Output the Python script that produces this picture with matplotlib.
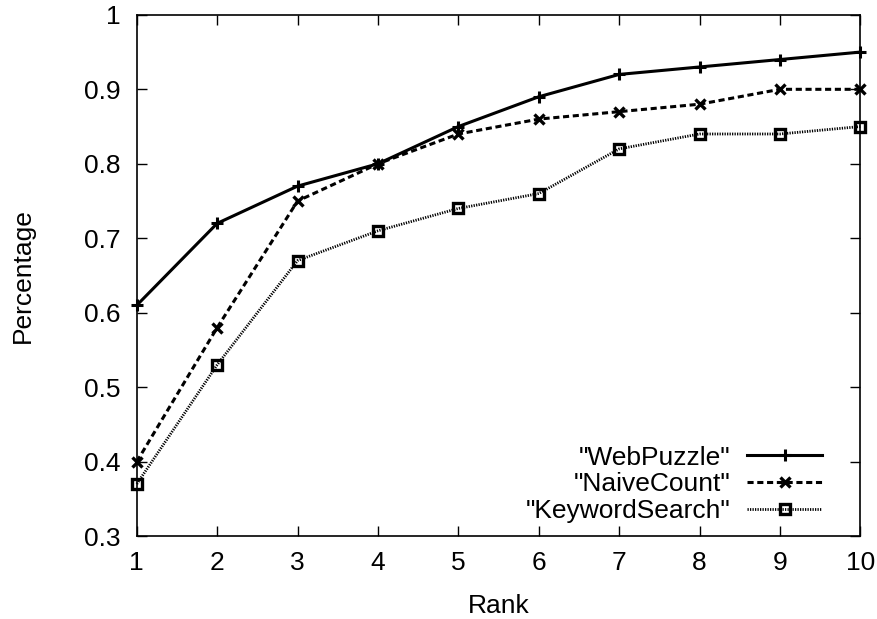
import numpy as np
import matplotlib.pyplot as plt

plt.rcParams['font.family'] = ['Liberation Sans', 'DejaVu Sans']

rank = np.arange(1, 11)
webpuzzle = [0.61, 0.72, 0.77, 0.80, 0.85, 0.89, 0.92, 0.93, 0.94, 0.95]
naivecount = [0.40, 0.58, 0.75, 0.80, 0.84, 0.86, 0.87, 0.88, 0.90, 0.90]
keyword = [0.37, 0.53, 0.67, 0.71, 0.74, 0.76, 0.82, 0.84, 0.84, 0.85]

fig = plt.figure(figsize=(8.77, 6.19), dpi=100)
ax = fig.add_axes([0.156, 0.134, 0.825, 0.842])

ax.plot(rank, webpuzzle, '-', color='black', lw=2.2, marker='+', ms=9, mew=2.2,
	label='"WebPuzzle"', clip_on=False)
ax.plot(rank, naivecount, color='black', lw=2.2, ls=(0, (2, 1.2)), marker='x', ms=7.5, mew=2.4,
	label='"NaiveCount"', clip_on=False)
ax.plot(rank, keyword, color='black', lw=2.0, ls=(0, (0.45, 0.45)), marker='s', ms=7.5, mew=2.4,
	mfc='none', label='"KeywordSearch"', clip_on=False)

ax.set_xlim(1, 10)
ax.set_ylim(0.3, 1.0)
ax.set_xticks(rank)
ax.set_yticks(np.arange(0.3, 1.01, 0.1))
ax.set_yticklabels(['0.3', '0.4', '0.5', '0.6', '0.7', '0.8', '0.9', '1'])
ax.tick_params(direction='in', length=7, width=1, labelsize=19, top=True, right=True)
ax.tick_params(axis='x', pad=10.5)
ax.tick_params(axis='y', pad=12)
for s in ax.spines.values():
	s.set_linewidth(1.2)

ax.set_xlabel('Rank', fontsize=19, labelpad=14)
ax.set_ylabel('Percentage', fontsize=19, labelpad=35)

ax.legend(loc='lower right', bbox_to_anchor=(0.962, 0.005), borderaxespad=0,
	frameon=False, markerfirst=False, fontsize=19,
	handlelength=2.85, labelspacing=0.1, handletextpad=0.62)

fig.savefig('out.png', dpi=100)
